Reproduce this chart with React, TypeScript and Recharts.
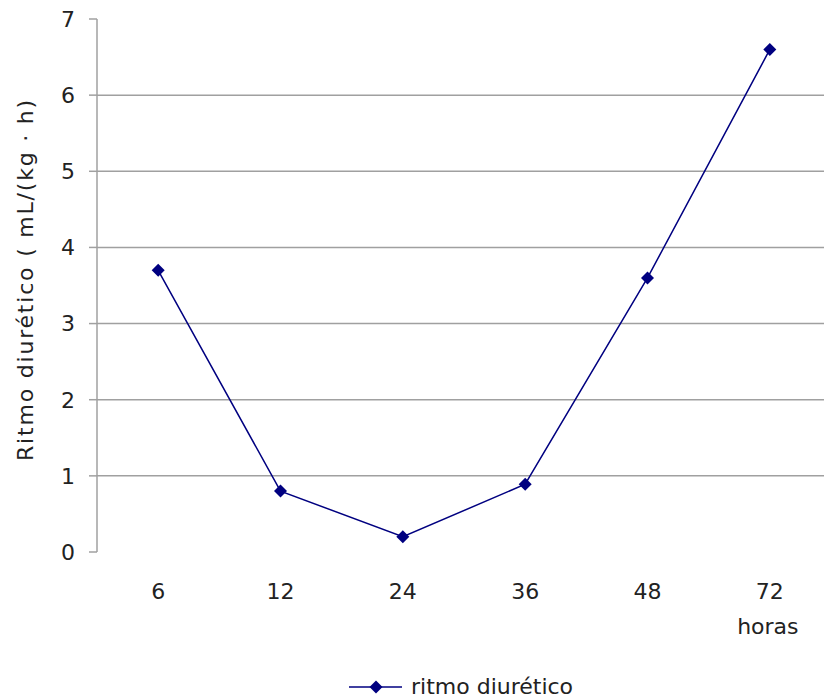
import React from "react";
import {
  LineChart,
  Line,
  XAxis,
  YAxis,
  CartesianGrid,
  Legend,
} from "recharts";

// hours after start (category labels)
const horas = ["6", "12", "24", "36", "48", "72"];
// diuretic rate, mL/(kg·h)
const ritmo = [3.7, 0.8, 0.2, 0.89, 3.6, 6.6];
const yTicks = [0, 1, 2, 3, 4, 5, 6, 7];
const gridValues = [1, 2, 3, 4, 5, 6];
const slotEdges = [0, 1, 2, 3, 4, 5, 6];

const FONT = "'DejaVu Sans', Verdana, sans-serif";
const NAVY = "#000080";
const GREY = "#a0a0a0";
const TEXT = "#222";
const FS = 22;

// points sit in the middle of each category slot
const chartData = horas.map((h, i) => ({
  pos: i + 0.5,
  hora: h,
  ritmo: ritmo[i],
}));

const Diamond = (props: any) => {
  const { cx, cy } = props;
  if (cx == null || cy == null) return null;
  const r = 6.5;
  return (
    <path
      d={`M${cx},${cy - r}L${cx + r},${cy}L${cx},${cy + r}L${cx - r},${cy}Z`}
      fill={NAVY}
    />
  );
};

const HourTick = (props: any) => {
  const { x, y, payload, index } = props;
  const last = index === horas.length - 1;
  return (
    <text
      x={x}
      y={y}
      dy="0.71em"
      textAnchor="middle"
      fill={TEXT}
      fontSize={FS}
      fontFamily={FONT}
    >
      {horas[payload.value - 0.5]}
      {last && (
        <tspan x={x - 2} dy="1.6em">
          horas
        </tspan>
      )}
    </text>
  );
};

const YTitle = (props: any) => {
  const { viewBox } = props;
  const cx = 25;
  const cy = viewBox.y + viewBox.height / 2 - 6;
  return (
    <text
      x={cx}
      y={cy}
      transform={`rotate(-90, ${cx}, ${cy})`}
      textAnchor="middle"
      dominantBaseline="central"
      fill={TEXT}
      fontSize={FS}
      fontFamily={FONT}
      letterSpacing={1.8}
    >
      Ritmo diurético ( mL/(kg · h)
    </text>
  );
};

const LegendBox = () => (
  <div
    style={{
      display: "flex",
      alignItems: "center",
      fontFamily: FONT,
      fontSize: FS,
      lineHeight: 1,
      color: TEXT,
    }}
  >
    <svg width={54} height={14} style={{ marginRight: 8 }}>
      <line x1={0} y1={7} x2={53} y2={7} stroke={NAVY} strokeWidth={1.5} />
      <Diamond cx={27} cy={7} />
    </svg>
    <span>ritmo diurético</span>
  </div>
);

export default function App() {
  return (
    <div
      style={{
        position: "absolute",
        left: 0,
        top: 0,
        width: 824,
        height: 698,
        overflow: "hidden",
        background: "#fff",
      }}
    >
      <LineChart
        width={834}
        height={698}
        data={chartData}
        margin={{ top: 19, right: 3, left: 0, bottom: 46 }}
      >
        <CartesianGrid
          vertical={false}
          horizontalValues={gridValues}
          stroke={GREY}
          strokeWidth={1.5}
        />
        <XAxis
          xAxisId="edges"
          type="number"
          dataKey="pos"
          domain={[0, 6]}
          ticks={slotEdges}
          tick={false}
          tickSize={9}
          height={0}
          stroke={GREY}
          strokeWidth={1.5}
        />
        <XAxis
          xAxisId="labels"
          type="number"
          dataKey="pos"
          domain={[0, 6]}
          ticks={chartData.map((d) => d.pos)}
          tick={<HourTick />}
          tickLine={false}
          axisLine={false}
          tickSize={8}
          tickMargin={23}
          height={100}
        />
        <YAxis
          domain={[0, 7]}
          ticks={yTicks}
          width={97}
          tickSize={8}
          tickMargin={14}
          stroke={GREY}
          strokeWidth={1.5}
          tick={{ fill: TEXT, fontSize: FS, fontFamily: FONT }}
          label={<YTitle />}
        />
        <Legend
          layout="vertical"
          align="center"
          verticalAlign="middle"
          wrapperStyle={{ top: 676, left: 349 }}
          content={<LegendBox />}
        />
        <Line
          xAxisId="labels"
          dataKey="ritmo"
          name="ritmo diurético"
          stroke={NAVY}
          strokeWidth={1.5}
          dot={<Diamond />}
          activeDot={false}
          isAnimationActive={false}
        />
      </LineChart>
    </div>
  );
}
